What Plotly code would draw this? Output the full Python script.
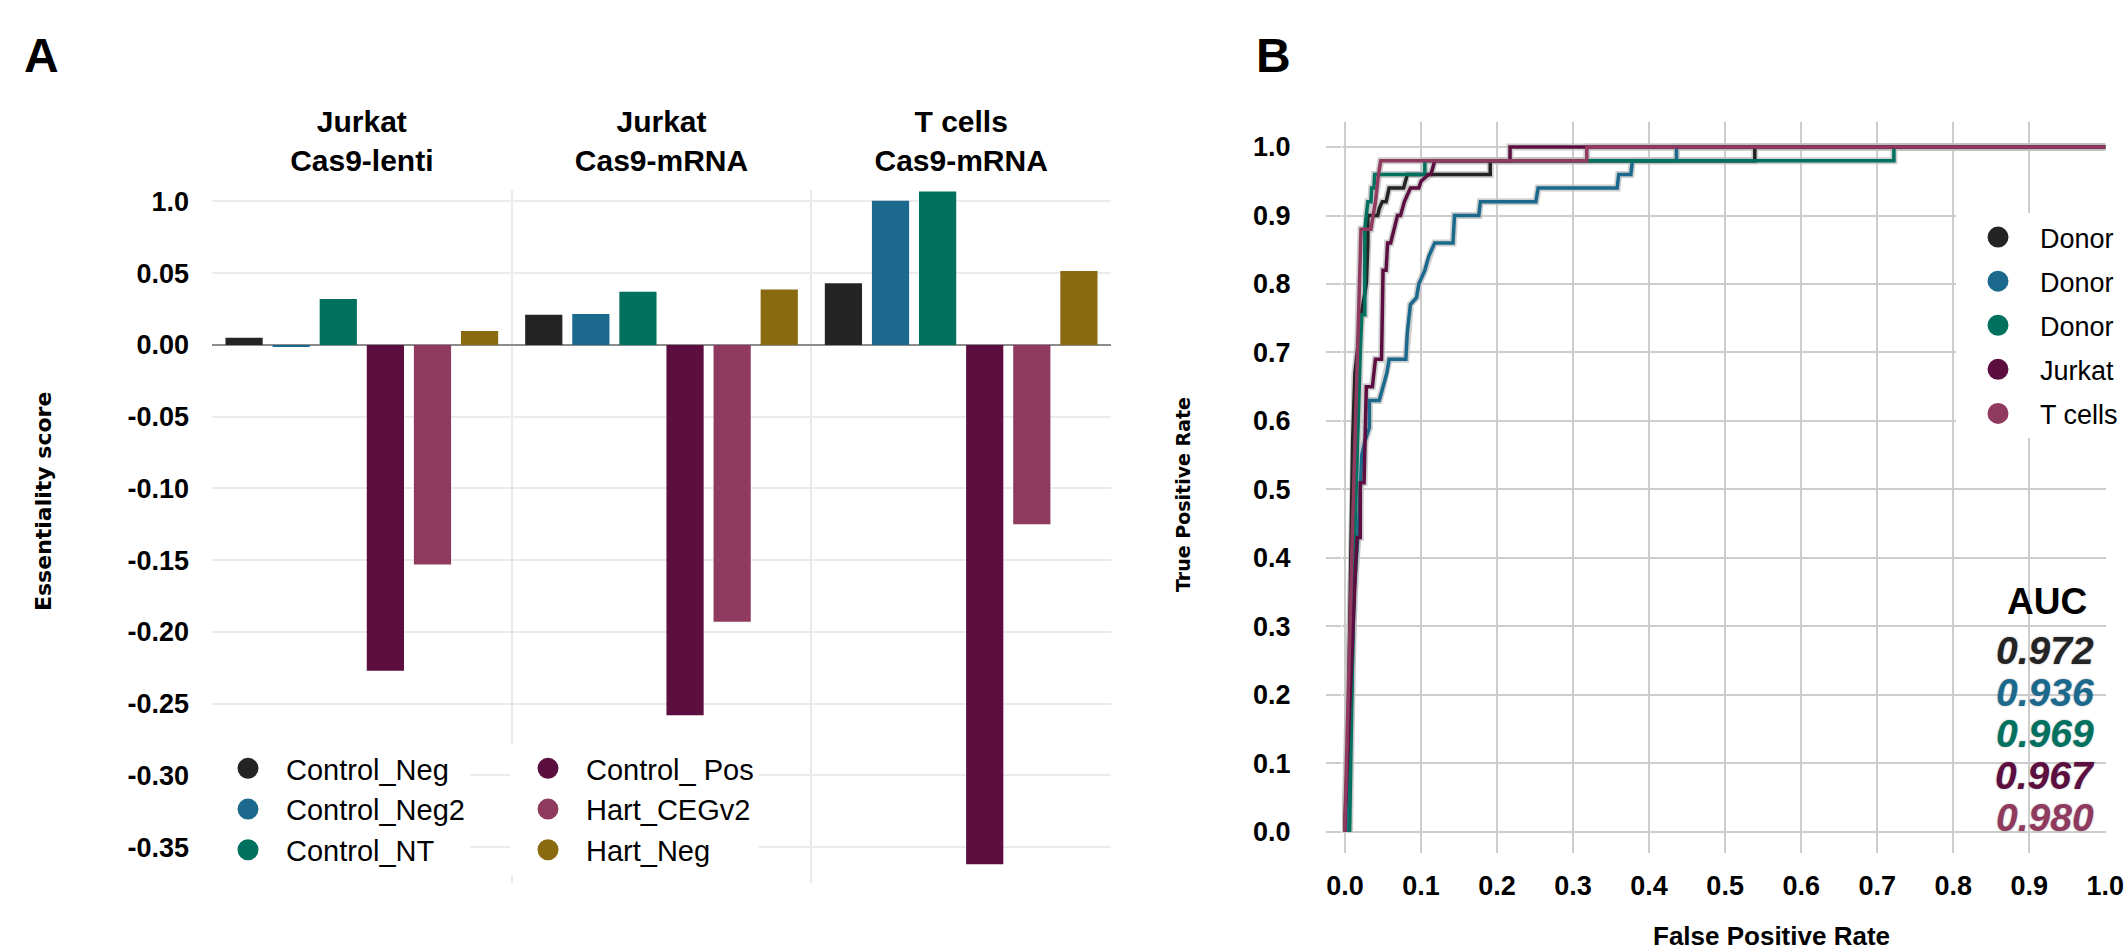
import plotly.graph_objects as go

W, H = 2127, 952


def px(x):
    return x / W


def py(y):
    return 1 - y / H


REG = "Liberation Sans, Arial, sans-serif"
WIDE = "DejaVu Sans, Verdana, sans-serif"

# ---------------- Panel A data ----------------
groups = ["Jurkat<br>Cas9-lenti", "Jurkat<br>Cas9-mRNA", "T cells<br>Cas9-mRNA"]
series_names = ["Control_Neg", "Control_Neg2", "Control_NT", "Control_ Pos", "Hart_CEGv2", "Hart_Neg"]
control_neg = [0.005, 0.021, 0.043]
control_neg2 = [-0.0015, 0.0215, 0.1005]
control_nt = [0.032, 0.037, 0.107]
control_pos = [-0.227, -0.258, -0.362]
hart_cegv2 = [-0.153, -0.193, -0.125]
hart_neg = [0.0098, 0.0386, 0.0516]
series_values = [control_neg, control_neg2, control_nt, control_pos, hart_cegv2, hart_neg]
series_colors = ["#242424", "#1B6A8E", "#00705F", "#5C0E40", "#8F3A5E", "#8A6A10"]
legend_column = ["legend", "legend", "legend", "legend3", "legend3", "legend3"]

ytick_vals = [0.10, 0.05, 0.0, -0.05, -0.10, -0.15, -0.20, -0.25, -0.30, -0.35, -0.375]
ytick_text = ["1.0", "0.05", "0.00", "-0.05", "-0.10", "-0.15", "-0.20", "-0.25", "-0.30", "-0.35", ""]

# ---------------- Panel B data ----------------
roc_names = ["Donor", "Donor", "Donor", "Jurkat", "T cells"]
roc_colors = ["#242424", "#1B6A8E", "#00705F", "#5C0E40", "#8F3A5E"]
auc_text = ["0.972", "0.936", "0.969", "0.967", "0.980"]
rate_ticks = [0.0, 0.1, 0.2, 0.3, 0.4, 0.5, 0.6, 0.7, 0.8, 0.9, 1.0]
rate_labels = ["0.0", "0.1", "0.2", "0.3", "0.4", "0.5", "0.6", "0.7", "0.8", "0.9", "1.0"]

donor1_fpr = [0.002, 0.010, 0.013, 0.022, 0.028, 0.030, 0.030, 0.043, 0.045, 0.049, 0.054, 0.056,
              0.058, 0.077, 0.079, 0.082, 0.191, 0.191, 0.539, 0.539, 1.0]
donor1_tpr = [0.0, 0.57, 0.67, 0.76, 0.80, 0.86, 0.90, 0.90, 0.91, 0.92, 0.92, 0.93,
              0.94, 0.94, 0.95, 0.96, 0.96, 0.98, 0.98, 1.0, 1.0]

donor2_fpr = [0.004, 0.012, 0.018, 0.022, 0.026, 0.032, 0.032, 0.045, 0.050, 0.055, 0.058, 0.080,
              0.082, 0.086, 0.094, 0.097, 0.105, 0.110, 0.114, 0.118, 0.142, 0.144, 0.176, 0.178,
              0.251, 0.254, 0.358, 0.360, 0.376, 0.378, 0.436, 0.436, 1.0]
donor2_tpr = [0.0, 0.35, 0.45, 0.55, 0.57, 0.59, 0.63, 0.63, 0.65, 0.67, 0.69, 0.69,
              0.73, 0.77, 0.78, 0.80, 0.82, 0.84, 0.85, 0.86, 0.86, 0.90, 0.90, 0.92,
              0.92, 0.94, 0.94, 0.96, 0.96, 0.98, 0.98, 1.0, 1.0]

donor3_fpr = [0.006, 0.012, 0.020, 0.022, 0.026, 0.026, 0.028, 0.030, 0.034, 0.035, 0.038, 0.039,
              0.105, 0.105, 0.722, 0.722, 1.0]
donor3_tpr = [0.0, 0.40, 0.70, 0.755, 0.755, 0.88, 0.90, 0.92, 0.92, 0.94, 0.94, 0.96,
              0.96, 0.98, 0.98, 1.0, 1.0]

jurkat_fpr = [0.0, 0.0, 0.014, 0.016, 0.020, 0.020, 0.025, 0.028, 0.036, 0.040, 0.048, 0.050,
              0.054, 0.056, 0.060, 0.064, 0.069, 0.073, 0.078, 0.086, 0.097, 0.100, 0.110, 0.113,
              0.118, 0.217, 0.217, 1.0]
jurkat_tpr = [0.0, 0.02, 0.39, 0.43, 0.43, 0.51, 0.51, 0.65, 0.65, 0.69, 0.69, 0.82,
              0.82, 0.86, 0.86, 0.88, 0.90, 0.90, 0.92, 0.94, 0.94, 0.95, 0.96, 0.96,
              0.98, 0.98, 1.0, 1.0]

tcells_fpr = [0.0, 0.0, 0.010, 0.017, 0.021, 0.034, 0.040, 0.044, 0.047, 0.318, 0.318, 1.0]
tcells_tpr = [0.0, 0.02, 0.45, 0.70, 0.88, 0.88, 0.92, 0.96, 0.98, 0.98, 1.0, 1.0]

roc_fpr = [donor1_fpr, donor2_fpr, donor3_fpr, jurkat_fpr, tcells_fpr]
roc_tpr = [donor1_tpr, donor2_tpr, donor3_tpr, jurkat_tpr, tcells_tpr]

fig = go.Figure()

# ---- Panel A bars ----
for name, vals, col in zip(series_names, series_values, series_colors):
    fig.add_trace(go.Bar(x=groups, y=vals, name=name, marker=dict(color=col, line=dict(width=0)),
                         showlegend=False, xaxis="x", yaxis="y"))
for name, col, lg in zip(series_names, series_colors, legend_column):
    fig.add_trace(go.Scatter(x=[None], y=[None], mode="markers", name=name,
                             marker=dict(size=16, color=col, line=dict(color=col, width=5)),
                             legend=lg, xaxis="x", yaxis="y"))

# ---- Panel B ROC curves ----
for fx, ty in zip(roc_fpr, roc_tpr):
    fig.add_trace(go.Scatter(x=fx, y=ty, mode="lines", showlegend=False, hoverinfo="skip",
                             line=dict(color="rgba(190,190,190,0.75)", width=7),
                             xaxis="x2", yaxis="y2"))
for name, col, fx, ty in zip(roc_names, roc_colors, roc_fpr, roc_tpr):
    fig.add_trace(go.Scatter(x=fx, y=ty, mode="lines", showlegend=False, name=name,
                             line=dict(color=col, width=3.5), xaxis="x2", yaxis="y2"))
for i, (name, col) in enumerate(zip(roc_names, roc_colors)):
    fig.add_trace(go.Scatter(x=[None], y=[None], mode="markers", name=name, legendgroup=f"g{i}",
                             marker=dict(size=16, color=col, line=dict(color=col, width=5)),
                             legend="legend2", xaxis="x2", yaxis="y2"))


def ann(text, x, y, font, angle=0):
    return dict(text=text, x=px(x), y=py(y), xref="paper", yref="paper", showarrow=False,
                xanchor="center", yanchor="middle", textangle=angle, font=font)


annotations = [
    ann("A", 41, 55, dict(family=REG, size=48, color="black", weight="bold")),
    ann("B", 1273, 55, dict(family=REG, size=48, color="black", weight="bold")),
    ann("Essentiality score", 43, 502, dict(family=WIDE, size=22, color="black", weight="bold"), -90),
    ann("True Positive Rate", 1183, 495, dict(family=WIDE, size=19, color="black", weight="bold"), -90),
    ann("False Positive Rate", 1771, 936, dict(family=REG, size=26, color="black", weight="bold")),
    ann("AUC", 2047, 601, dict(family=REG, size=37, color="black", weight="bold")),
]
auc_y = [650, 692, 733, 775, 817]
for t, col, yy in zip(auc_text, roc_colors, auc_y):
    annotations.append(ann(t, 2045, yy, dict(family=REG, size=39, color=col, weight="bold",
                                              style="italic",
                                              shadow="0px 0px 2px rgba(120,120,120,0.6)")))

TICKFONT = dict(family=REG, size=27, color="black", weight="bold")

fig.update_layout(
    width=W, height=H, autosize=False,
    margin=dict(l=0, r=0, t=0, b=0, autoexpand=False),
    paper_bgcolor="white", plot_bgcolor="white",
    hovermode=False,
    barmode="group", bargap=0.057, bargroupgap=0.21,
    annotations=annotations,
    xaxis=dict(domain=[px(212), px(1111)], type="category", side="top", range=[-0.5, 2.5],
               tickson="boundaries", showgrid=True, gridcolor="#e9e9e9", gridwidth=2,
               ticks="", showline=False, zeroline=False, ticklabelstandoff=12, automargin=False,
               tickfont=dict(family=REG, size=30, color="black", weight="bold"),
               anchor="y"),
    yaxis=dict(domain=[py(883), py(190)], range=[-0.375, 0.108], tickvals=ytick_vals,
               ticktext=ytick_text, showgrid=True, gridcolor="#ebebeb", gridwidth=2,
               zeroline=True, zerolinecolor="#8c8c8c", zerolinewidth=2, ticks="",
               ticklabelstandoff=22, showline=False, tickfont=TICKFONT, anchor="x",
               automargin=False),
    xaxis2=dict(domain=[px(1342), px(2106)], range=[-0.004, 1.001], tickvals=rate_ticks,
                ticktext=rate_labels, showgrid=True, gridcolor="#cdcdcd", gridwidth=2,
                zeroline=False, showline=False, ticks="", ticklabelstandoff=14,
                ticklabeloverflow="allow", tickfont=TICKFONT, anchor="y2", automargin=False),
    yaxis2=dict(domain=[py(853), py(122)], range=[-0.0307, 1.0365], tickvals=rate_ticks,
                ticktext=rate_labels, showgrid=True, gridcolor="#cdcdcd", gridwidth=2,
                zeroline=False, showline=False, ticks="outside", ticklen=15, tickwidth=2,
                tickcolor="#cdcdcd", ticklabelstandoff=30, tickfont=TICKFONT, anchor="x2",
                automargin=False),
    legend=dict(x=px(210), y=py(743), xanchor="left", yanchor="top", bgcolor="white",
                font=dict(family=REG, size=29, color="black"), borderwidth=0, itemwidth=66,
                itemclick=False, itemdoubleclick=False),
    legend3=dict(x=px(510), y=py(743), xanchor="left", yanchor="top", bgcolor="white",
                 font=dict(family=REG, size=29, color="black"), borderwidth=0, itemwidth=66,
                 itemclick=False, itemdoubleclick=False),
    legend2=dict(x=px(1956), y=py(213), xanchor="left", yanchor="top", bgcolor="white",
                 font=dict(family=REG, size=27, color="black"), borderwidth=0, itemwidth=74,
                 tracegroupgap=6, itemclick=False, itemdoubleclick=False),
)

# make the figure sit at the page's top-left corner with no scrollbars
page_css = ("document.documentElement.style.margin='0';"
            "document.documentElement.style.overflow='hidden';"
            "document.body.style.margin='0';"
            "document.body.style.overflow='hidden';")

fig.write_html("out.html", post_script=page_css, config={"displayModeBar": False})
